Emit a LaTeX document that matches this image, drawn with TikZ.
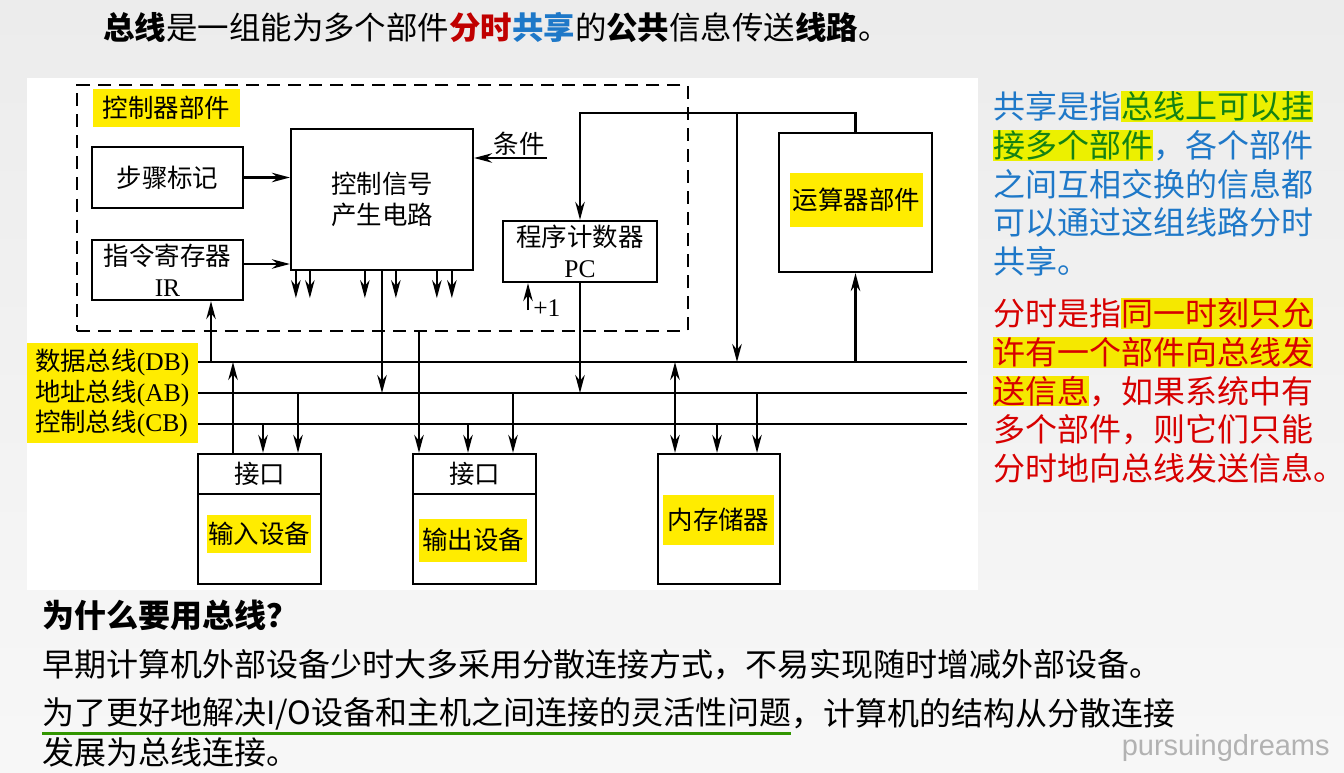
\documentclass[tikz,border=0pt]{standalone}
\usepackage{fontspec}
\setmainfont{Noto Sans CJK SC}
\newfontfamily\latinrm{Liberation Serif}
\newfontfamily\marksf{Liberation Sans}
\usetikzlibrary{arrows.meta,positioning,calc}

\definecolor{busYellow}{RGB}{255,236,0}
\definecolor{hlYellow}{RGB}{236,240,0}
\definecolor{hlGold}{RGB}{245,232,0}
\definecolor{shareBlue}{RGB}{30,120,200}
\definecolor{timeRed}{RGB}{215,0,0}
\definecolor{titleRed}{RGB}{192,0,0}
\definecolor{markGreen}{RGB}{20,130,20}
\definecolor{lineGreen}{RGB}{50,150,0}
\definecolor{pageGray}{RGB}{236,236,236}
\definecolor{markGray}{RGB}{178,178,178}

\newcommand{\dsize}{\fontsize{14.5}{17.5}\selectfont}
\newcommand{\tsize}{\fontsize{18.2}{22}\selectfont}
\newcommand{\hlbox}[2]{{\setlength{\fboxsep}{0pt}\colorbox{#1}{\rule[-0.1em]{0pt}{0.96em}#2}}}

\begin{document}
\begin{tikzpicture}[
  x=0.02cm, y=-0.02cm,
  >={Stealth[length=3.6mm,width=1.9mm]},
  blk/.style={draw, line width=1.3pt, inner sep=0pt, font=\dsize, align=center},
  tag/.style={fill=busYellow, inner sep=0pt, font=\dsize},
  arr/.style={->, line width=1.2pt},
  darr/.style={<->, line width=1.2pt},
  bus/.style={line width=1.3pt},
  para/.style={anchor=north west, inner sep=0pt, align=left, font=\tsize},
  txtline/.style={anchor=west, inner sep=0pt, font=\tsize}
]
  \useasboundingbox (0,0) rectangle (1344,773);
  \shade[top color=pageGray, bottom color=white!97!black] (0,0) rectangle (1344,773);
  \fill[white] (27,78) rectangle (978,590);

  \node[anchor=west, inner sep=0pt, font=\fontsize{17.9}{22}\selectfont] (title) at (103,28)
    {\textbf{总线}是一组能为多个部件\textbf{\color{titleRed}分时}\textbf{\color{shareBlue}共享}的\textbf{公共}信息传送\textbf{线路}。};

  % controller
  \node[draw, line width=1.3pt, dash pattern=on 7.4pt off 4.6pt, inner sep=0pt,
        minimum width=12.22cm, minimum height=4.92cm] (cu) at (382.5,208) {};
  \node[tag, minimum width=2.94cm, minimum height=0.76cm] (cutag) at (166.5,108) {控制器部件};
  \node[blk, minimum width=3.02cm, minimum height=1.22cm] (step) at (167.5,177.5) {步骤标记};
  \node[blk, minimum width=3.02cm, minimum height=1.2cm]  (ir)   at (167.5,270) {指令寄存器\\{\latinrm IR}};
  \node[blk, minimum width=3.64cm, minimum height=2.82cm] (sig)  at (382,199.5) {控制信号\\产生电路};
  \node[blk, minimum width=3.08cm, minimum height=1.22cm] (pc)   at (580,251.5) {程序计数器\\{\latinrm PC}};
  \node[blk, minimum width=3.06cm, minimum height=2.78cm] (alu)  at (855.5,202.5) {};
  \node[tag, minimum width=2.66cm, minimum height=1.08cm] (alutag) at (856.5,200) {运算器部件};

  % buses
  \coordinate (db-w) at (198,362); \coordinate (db-e) at (967,362);
  \coordinate (ab-w) at (198,393); \coordinate (ab-e) at (967,393);
  \coordinate (cb-w) at (198,424); \coordinate (cb-e) at (967,424);
  \foreach \b in {db,ab,cb}
    \draw[bus] (\b-w) -- (\b-e);
  \node[tag, anchor=east, minimum width=3.42cm, minimum height=2cm, align=left,
        font=\fontsize{14.5}{17.6}\selectfont] (buslbl) at (198,393)
    {数据总线{\latinrm(DB)}\\地址总线{\latinrm(AB)}\\控制总线{\latinrm(CB)}};

  % devices
  \node[blk, minimum width=2.46cm, minimum height=0.8cm] (inif) at (259.5,474) {接口};
  \node[blk, below=-1.3pt of inif, minimum width=2.46cm, minimum height=1.8cm] (indev) {};
  \node[tag, minimum width=2.08cm, minimum height=0.76cm] (intag) at (259,534) {输入设备};
  \node[blk, minimum width=2.46cm, minimum height=0.8cm] (outif) at (474.5,474) {接口};
  \node[blk, below=-1.3pt of outif, minimum width=2.46cm, minimum height=1.8cm] (outdev) {};
  \node[tag, minimum width=2.16cm, minimum height=0.86cm] (outtag) at (473,540) {输出设备};
  \node[blk, minimum width=2.44cm, minimum height=2.6cm] (mem) at (719,519) {};
  \node[tag, minimum width=2.22cm, minimum height=1cm] (memtag) at (718.5,520) {内存储器};

  % inside the controller
  \draw[arr] (step) -- (step -| sig.west);
  \coordinate (irout) at ([yshift=0.12cm]ir.east);
  \draw[arr] (irout) -- (irout -| sig.west);
  \foreach \dx in {0.12,0.4,1.5,2.12,2.94,3.24}
    \draw[arr] ([xshift=\dx cm]sig.south west) -- ++(0,27);
  \draw[arr] (sig.south) -- (sig.south |- ab-w);
  \node[anchor=south east, inner sep=1pt, font=\dsize] (cond) at (547,158) {条件};
  \draw[arr] (cond.south east) -- (cond.south east -| sig.east);
  \coordinate (inc) at (528,310);
  \draw[arr] (inc) -- (inc |- pc.south);
  \node[anchor=west, inner sep=0pt, font=\dsize\latinrm] (plus) at (533,308) {+1};
  \draw[arr] (pc.south) -- (pc.south |- ab-w);

  % ALU loop
  \coordinate (loop) at ([yshift=0.38cm]alu.north);
  \draw[arr] (alu.north) -- (loop) -| (pc.north);
  \coordinate (dbalu) at (737,362);
  \draw[arr] (dbalu |- loop) -- (dbalu);
  \draw[arr] (alu.south |- db-w) -- (alu.south);

  % bus taps
  \coordinate (dbir) at (211,362);
  \draw[arr] (dbir) -- (dbir |- ir.south);
  \coordinate (dbin) at (233,362);
  \draw[arr] (dbin |- inif.north) -- (dbin);
  \coordinate (cuout) at (419,331);
  \draw[arr] (cuout |- cu.south) -- (cuout |- outif.north);
  \coordinate (dbmem) at (675,362);
  \draw[darr] (dbmem) -- (dbmem |- mem.north);
  \coordinate (cbin) at (263,424);  \coordinate (abin) at (298,393);
  \coordinate (cbout) at (468,424); \coordinate (about) at (513,393);
  \coordinate (cbmem) at (717,424); \coordinate (abmem) at (757,393);
  \foreach \t/\n in {cbin/inif, abin/inif, cbout/outif, about/outif, cbmem/mem, abmem/mem}
    \draw[arr] (\t) -- (\t |- \n.north);

  % notes on the right
  \node[para, text=shareBlue] (share) at (993,91)
    {共享是指\hlbox{hlYellow}{\textcolor{markGreen}{总线上可以挂}}\\
     \hlbox{hlYellow}{\textcolor{markGreen}{接多个部件}}，各个部件\\
     之间互相交换的信息都\\可以通过这组线路分时\\共享。};
  \node[para, text=timeRed] (shared) at (993,298)
    {分时是指\hlbox{hlGold}{同一时刻只允}\\
     \hlbox{hlGold}{许有一个部件向总线发}\\
     \hlbox{hlGold}{送信息}，如果系统中有\\
     多个部件，则它们只能\\分时地向总线发送信息。};

  % why a bus
  \node[txtline, font=\tsize\bfseries] (why) at (42,615) {为什么要用总线？};
  \node[txtline] (early) at (42,665) {早期计算机外部设备少时大多采用分散连接方式，不易实现随时增减外部设备。};
  \node[txtline] (aim) at (42,714) {为了更好地解决I/O设备和主机之间连接的灵活性问题};
  \node[txtline] (aim2) at (aim.east) {，计算机的结构从分散连接};
  \node[txtline] (aim3) at (42,752) {发展为总线连接。};
  \draw[line width=1.7pt, lineGreen] ([yshift=-0.05cm]aim.south west) -- ([yshift=-0.05cm]aim.south east);

  \node[anchor=east, inner sep=0pt, text=markGray, font=\marksf\fontsize{16.5}{18}\selectfont] (mark) at (1330,748) {pursuingdreams};
\end{tikzpicture}
\end{document}
